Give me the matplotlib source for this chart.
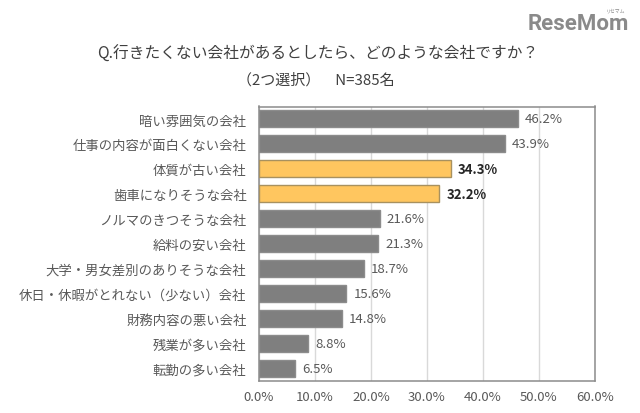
import matplotlib.pyplot as plt
import numpy as np

plt.rcParams['font.family'] = ['Noto Sans CJK JP', 'DejaVu Sans']

# Survey results (%), top to bottom
categories = ['暗い雰囲気の会社', '仕事の内容が面白くない会社', '体質が古い会社', '歯車になりそうな会社',
              'ノルマのきつそうな会社', '給料の安い会社', '大学・男女差別のありそうな会社',
              '休日・休暇がとれない（少ない）会社', '財務内容の悪い会社', '残業が多い会社', '転勤の多い会社']
values = [46.2, 43.9, 34.3, 32.2, 21.6, 21.3, 18.7, 15.6, 14.8, 8.8, 6.5]
highlighted = ['体質が古い会社', '歯車になりそうな会社']
xticks = [0, 10, 20, 30, 40, 50, 60]

W, H = 640, 414
fig = plt.figure(figsize=(W / 100, H / 100), dpi=100)
ax = fig.add_axes([259 / W, 1 - 381.5 / H, (595 - 259) / W, (381.5 - 107.5) / H])

y = np.arange(len(categories))
colors = ['#ffc65f' if c in highlighted else '#7f7f7f' for c in categories]
edges = ['#a8915f' if c in highlighted else '#8c8c8c' for c in categories]
bars = ax.barh(y, values, 0.68, color=colors, edgecolor=edges, linewidth=1, zorder=3)

ax.set_xlim(0, 60)
ax.set_ylim(len(categories) - 0.5, -0.5)
ax.set_xticks(xticks)
ax.set_xticklabels([f'{t:.1f}%' for t in xticks], fontsize=9.5, color='#595959')
ax.set_yticks(y)
ax.set_yticklabels(categories, fontsize=9.6, color='#595959')
ax.tick_params(axis='both', length=0)
ax.tick_params(axis='y', pad=9)
ax.tick_params(axis='x', pad=7)
ax.grid(axis='x', color='#d9d9d9', linewidth=1, zorder=0)
ax.set_axisbelow(True)
for s in ax.spines.values():
    s.set_color('#8c8c8c')
    s.set_linewidth(1.1)

for bar, cat, val in zip(bars, categories, values):
    bold = cat in highlighted
    ax.annotate(f'{val:.1f}%', xy=(val, bar.get_y() + bar.get_height() / 2),
                xytext=(5, 0), textcoords='offset points', ha='left', va='center',
                fontsize=9.5, fontweight='bold' if bold else 'normal',
                color='#262626' if bold else '#595959', zorder=4)

fig.text(318 / W, 1 - 54 / H, 'Q.行きたくない会社があるとしたら、どのような会社ですか？',
         ha='center', va='center', fontsize=11.3, color='#404040')
fig.text(316 / W, 1 - 80 / H, '（2つ選択）　N=385名', ha='center', va='center',
         fontsize=10.8, color='#404040')

# Site watermark
fig.text(578 / W, 1 - 24 / H, 'ReseMom', ha='center', va='center', fontsize=16,
         fontweight='bold', color='#8a8a8a', family=['Roboto', 'DejaVu Sans'])
fig.text(616 / W, 1 - 11 / H, 'リセマム', ha='center', va='center', fontsize=3.5, color='#8a8a8a')

fig.savefig('out.png', dpi=100)
